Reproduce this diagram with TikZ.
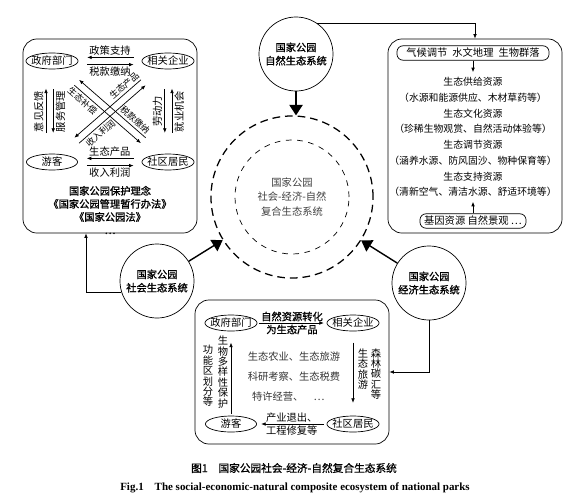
\documentclass[tikz,border=0pt]{standalone}
\usepackage{fontspec}
\setmainfont{Noto Sans CJK SC}
\newfontfamily\semibold[FakeBold=1.2]{Noto Sans CJK SC}
\newfontfamily\enfont{Liberation Serif}
\usetikzlibrary{arrows.meta, positioning, calc, shapes.geometric}

\tikzset{
  party/.style={ellipse, draw, inner xsep=-1.5pt, inner ysep=0.5pt, minimum width=1.28cm, minimum height=0.4cm},
  ecosys/.style={circle, draw, inner sep=0pt, minimum size=1.85cm, align=center, font=\semibold\fontsize{7.3}{9.5}\selectfont},
  panel/.style={draw, rounded corners=0.35cm},
  rtag/.style={draw, rounded corners=0.15cm, inner sep=1pt, minimum height=0.36cm},
  flow/.style={-{Latex[length=3.2pt,width=2.6pt]}},
  back/.style={{Latex[length=3.2pt,width=2.6pt]}-},
  feed/.style={-{Triangle[length=2.6mm,width=3.3mm]}, line width=1pt},
  stack/.style={align=center, inner sep=0pt, font=\fontsize{7.3}{7.4}\selectfont},
  uplab/.style={rotate=90, inner sep=1.5pt},
  diag/.style={sloped, inner sep=1.5pt, font=\fontsize{6.3}{7}\selectfont},
  heavy/.style={font=\semibold\fontsize{7.3}{9}\selectfont},
}

\begin{document}
\begin{tikzpicture}[x=0.025cm, y=-0.025cm, font=\fontsize{7.3}{9}\selectfont, line width=0.5pt]
\useasboundingbox (0,0) rectangle (570,500);

\node[panel, minimum width=4.35cm, minimum height=4.85cm] (socbox) at (110,136) {};
\node[panel, minimum width=4.35cm, minimum height=4.85cm] (natbox) at (475,136) {};
\node[panel, minimum width=4.85cm, minimum height=3.6cm] (ecobox) at (292,372) {};

\node[party] (gov) at (52,61) {政府部门};
\node[party] (firm) at (168,61) {相关企业};
\node[party] (tour) at (52,162) {游客};
\node[party] (resid) at (168,162) {社区居民};

\draw[back, shorten <=0.22cm, shorten >=0.2cm] ([yshift=0.09cm]gov.east) -- node[above, inner sep=1.5pt] {政策支持} ([yshift=0.09cm]firm.west);
\draw[flow, shorten <=0.22cm, shorten >=0.2cm] ([yshift=-0.09cm]gov.east) -- node[below, inner sep=1.5pt] {税款缴纳} ([yshift=-0.09cm]firm.west);
\draw[back, shorten <=0.22cm, shorten >=0.2cm] ([yshift=0.09cm]tour.east) -- node[above, inner sep=1.5pt] {生态产品} ([yshift=0.09cm]resid.west);
\draw[flow, shorten <=0.22cm, shorten >=0.2cm] ([yshift=-0.09cm]tour.east) -- node[below, inner sep=1.5pt] {收入利润} ([yshift=-0.09cm]resid.west);

\draw[flow, shorten <=0.52cm, shorten >=0.48cm] ([xshift=-0.15cm]tour.north) -- node[uplab, anchor=south] {意见反馈} ([xshift=-0.15cm]gov.south);
\draw[back, shorten <=0.52cm, shorten >=0.48cm] ([xshift=0.03cm]tour.north) -- node[uplab, anchor=north] {服务管理} ([xshift=0.03cm]gov.south);
\draw[back, shorten <=0.52cm, shorten >=0.48cm] ([xshift=-0.08cm]resid.north) -- node[uplab, anchor=south] {劳动力} ([xshift=-0.08cm]firm.south);
\draw[flow, shorten <=0.52cm, shorten >=0.48cm] ([xshift=0.1cm]resid.north) -- node[uplab, anchor=north] {就业机会} ([xshift=0.1cm]firm.south);

\draw[flow, shorten <=0.82cm, shorten >=0.82cm] ($(gov)!0.09cm!-90:(resid)$) -- node[diag, below, pos=0.32] {生态补偿} ($(resid)!0.09cm!90:(gov)$);
\draw[back, shorten <=0.82cm, shorten >=0.82cm] ($(gov)!0.09cm!90:(resid)$) -- node[diag, above, pos=0.66] {税款缴纳} ($(resid)!0.09cm!-90:(gov)$);
\draw[back, shorten <=0.82cm, shorten >=0.82cm] ($(tour)!0.09cm!90:(firm)$) -- node[diag, above, pos=0.68] {生态产品} ($(firm)!0.09cm!-90:(tour)$);
\draw[flow, shorten <=0.82cm, shorten >=0.82cm] ($(tour)!0.09cm!-90:(firm)$) -- node[diag, below, pos=0.36] {收入利润} ($(firm)!0.09cm!90:(tour)$);

\node[align=center, font=\semibold\fontsize{7.3}{9.3}\selectfont] (idea) at (110,210) {国家公园保护理念\\《国家公园管理暂行办法》\\《国家公园法》\\…};

\node[rtag, minimum width=3.8cm] (climate) at (473,53) {气候调节\enspace 水文地理\enspace 生物群落};
\node[align=center, font=\fontsize{7}{11.2}\selectfont] (res) at (473,137) {生态供给资源\\（水源和能源供应、木材草药等）\\生态文化资源\\（珍稀生物观赏、自然活动体验等）\\生态调节资源\\（涵养水源、防风固沙、物种保育等）\\生态支持资源\\（清新空气、清洁水源、舒适环境等）};
\node[rtag, minimum width=2.65cm] (gene) at (473,221) {基因资源 自然景观 …};
\draw[flow] (climate) -- (res);
\draw[flow] (gene) -- (res);

\node[ecosys] (nat) at (296,54) {国家公园\\自然生态系统};
\node[ecosys] (soc) at (157,281) {国家公园\\社会生态系统};
\node[ecosys] (eco) at (429,283) {国家公园\\经济生态系统};
\node[circle, draw, dash pattern=on 5.5pt off 3.5pt, line width=0.9pt, minimum size=4.05cm] (outer) at (292,197) {};
\node[circle, draw, dash pattern=on 4pt off 4pt, minimum size=2.85cm, align=center, text=black!75, font=\fontsize{7.3}{10}\selectfont] (core) at (292,197) {国家公园\\社会-经济-自然\\复合生态系统};

\draw[feed] (nat.south) -- (nat.south |- outer.north);
\draw[feed] (soc) -- (outer);
\draw[feed] (eco) -- (outer);
\draw[flow] (nat.55) -| (natbox.north);
\draw[flow] (soc.197) -| ([xshift=-0.6cm]socbox.south);
\draw[flow] (eco.south) |- (ecobox.east);

\node[party] (gov2) at (231,323) {政府部门};
\node[party] (firm2) at (353,323) {相关企业};
\node[party] (tour2) at (231,424) {游客};
\node[party] (resid2) at (353,424) {社区居民};
\path[flow]
  (gov2) edge[shorten <=1pt, shorten >=2pt] node[above, inner sep=1pt, heavy] {自然资源转化} node[below, inner sep=1pt, heavy] {为生态产品} (firm2)
  (firm2) edge[shorten <=0.28cm, shorten >=0.32cm] (resid2)
  (resid2) edge[shorten <=2pt, shorten >=3pt] node[above, inner sep=1pt] {产业退出、} node[below, inner sep=1pt] {工程修复等} (tour2)
  (tour2) edge[shorten <=1pt, shorten >=0.28cm] (gov2);
\node[stack] (bio) at (223,372) {生\\物\\多\\样\\性\\保\\护};
\node[stack] (zone) at (208,376) {功\\能\\区\\划\\分\\等};
\node[stack] (sightsee) at (363,369) {生\\态\\旅\\游};
\node[stack] (carbon) at (376,374) {森\\林\\碳\\汇\\等};
\node[align=left, font=\fontsize{7.3}{14.2}\selectfont, text=black!80] (uses) at (294,377) {生态农业、生态旅游\\科研考察、生态税费\\\hspace{3pt}特许经营、\quad …};

\node[font=\semibold\fontsize{7.6}{9}\selectfont] (cap) at (294,468) {图1\quad 国家公园社会-经济-自然复合生态系统};
\node[font=\enfont\fontsize{7.8}{9}\selectfont\bfseries] (capen) at (295,488) {Fig.1\quad The social-economic-natural composite ecosystem of national parks};
\end{tikzpicture}
\end{document}
